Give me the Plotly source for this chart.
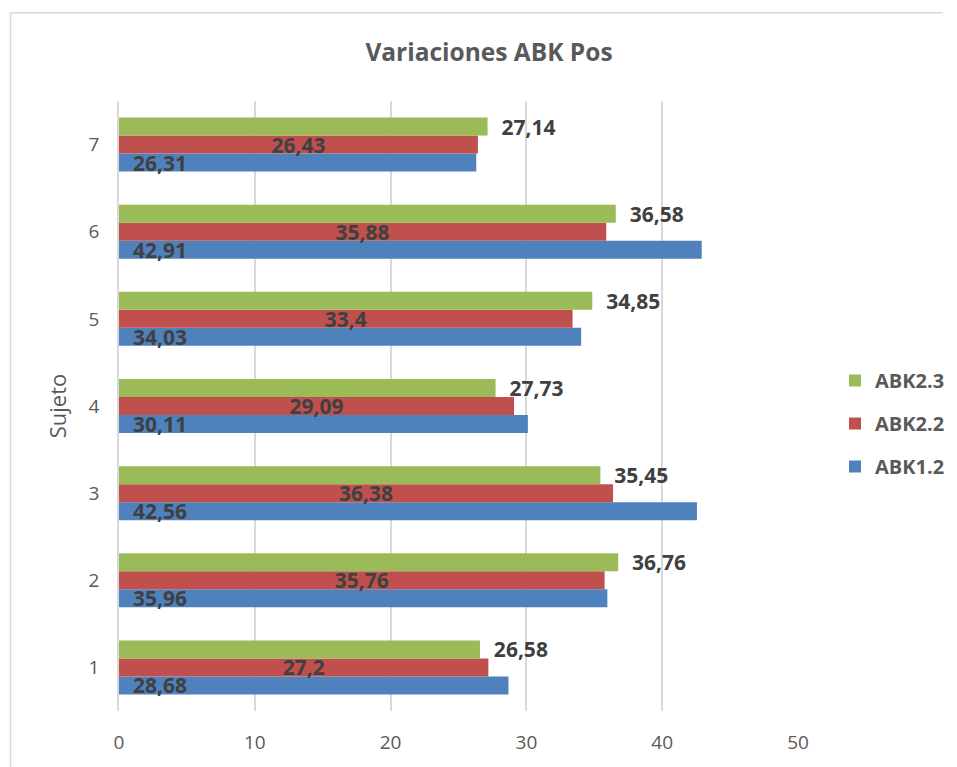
import plotly.graph_objects as go

# Subjects and the three measurement series
sujetos = ["1", "2", "3", "4", "5", "6", "7"]
abk12 = [28.68, 35.96, 42.56, 30.11, 34.03, 42.91, 26.31]
abk22 = [27.2, 35.76, 36.38, 29.09, 33.4, 35.88, 26.43]
abk23 = [26.58, 36.76, 35.45, 27.73, 34.85, 36.58, 27.14]
x_ticks = [0, 10, 20, 30, 40, 50]

BLUE = "#4F81BD"
RED = "#C0504D"
GREEN = "#9BBB59"
LABEL = "#404040"
GREY = "#595959"
FONT = "Open Sans"
NBSP = "\u00a0"


def fmt(v):
    # decimal comma, no trailing zeros
    return f"{v:g}".replace(".", ",")


label_font = dict(family=FONT, size=21, color=LABEL, weight="bold")

fig = go.Figure()

fig.add_trace(go.Bar(
    name="ABK1.2", y=sujetos, x=abk12, orientation="h",
    marker=dict(color=BLUE, line=dict(width=0)),
    text=[NBSP * 2 + fmt(v) for v in abk12],
    textposition="inside", insidetextanchor="start",
    insidetextfont=label_font, constraintext="none",
    legendgroup="a", legendrank=3, hoverinfo="x+name",
))
fig.add_trace(go.Bar(
    name="ABK2.2", y=sujetos, x=abk22, orientation="h",
    marker=dict(color=RED, line=dict(width=0)),
    text=[fmt(v) for v in abk22],
    textposition="inside", insidetextanchor="middle",
    insidetextfont=label_font, constraintext="none",
    legendgroup="b", legendrank=2, hoverinfo="x+name",
))
fig.add_trace(go.Bar(
    name="ABK2.3", y=sujetos, x=abk23, orientation="h",
    marker=dict(color=GREEN, line=dict(width=0)),
    text=[NBSP * 2 + fmt(v) for v in abk23],
    textposition="outside",
    outsidetextfont=label_font, constraintext="none",
    cliponaxis=False,
    legendgroup="c", legendrank=1, hoverinfo="x+name",
))

L, R, T, B = 119, 159, 101, 54
W, H = 957, 767
pw, ph = W - L - R, H - T - B


def px_x(px):
    return (px - L) / pw


def px_y(py):
    return (H - B - py) / ph


border = dict(color="#D9D9D9", width=1.5)

fig.update_layout(
    width=W, height=H,
    margin=dict(l=L, r=R, t=T, b=B, pad=0),
    paper_bgcolor="white", plot_bgcolor="white",
    barmode="group", bargap=0.38, bargroupgap=0,
    font=dict(family=FONT, color=GREY),
    title=dict(
        text="<b>Variaciones ABK Pos</b>",
        font=dict(family=FONT, size=24.5, color=GREY),
        x=px_x(489), xanchor="center", xref="paper",
        y=1 - 52 / H, yanchor="middle",
    ),
    xaxis=dict(
        range=[0, 50], tickvals=x_ticks,
        showgrid=True, gridcolor="#D9D9D9", gridwidth=1.5,
        zeroline=False, showline=False,
        tickfont=dict(family=FONT, size=19, color=GREY),
        ticks="", ticklabelstandoff=18,
    ),
    yaxis=dict(
        type="category", categoryorder="array", categoryarray=sujetos,
        showgrid=False, zeroline=False,
        showline=True, linecolor="#D9D9D9", linewidth=1.5,
        tickfont=dict(family=FONT, size=19, color=GREY),
        ticks="", ticklabelstandoff=14,
        title=dict(text="Sujeto", font=dict(family=FONT, size=22, color=GREY),
                   standoff=16),
    ),
    legend=dict(
        xref="container", yref="container",
        x=835 / W, xanchor="left", y=1 - 361 / H, yanchor="top",
        traceorder="grouped", tracegroupgap=14,
        font=dict(family=FONT, size=20, color=GREY, weight="bold"),
        bgcolor="rgba(0,0,0,0)",
    ),
    showlegend=True,
    # chart-area frame: left and top edges
    shapes=[
        dict(type="line", xref="paper", yref="paper",
             x0=px_x(10.5), x1=px_x(10.5), y0=px_y(H + 5), y1=px_y(12.5),
             line=border, layer="below"),
        dict(type="line", xref="paper", yref="paper",
             x0=px_x(10.5), x1=px_x(W - 14), y0=px_y(12.5), y1=px_y(12.5),
             line=border, layer="below"),
    ],
)

fig.write_html("out.html")
